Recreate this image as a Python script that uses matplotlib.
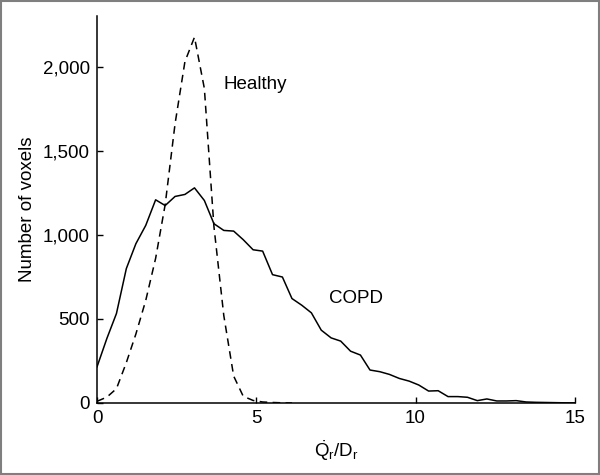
import matplotlib
matplotlib.use("Agg")
import matplotlib.pyplot as plt
from matplotlib.patches import Rectangle
from matplotlib.ticker import FuncFormatter

plt.rcParams['font.family'] = ['Liberation Sans', 'DejaVu Sans']
plt.rcParams['mathtext.fontset'] = 'custom'
plt.rcParams['mathtext.rm'] = 'Liberation Sans'
plt.rcParams['mathtext.it'] = 'Liberation Sans:italic'

# bin centres (50 bins over 0..15)
x_bins = [0.00, 0.31, 0.61, 0.92, 1.22, 1.53, 1.84, 2.14, 2.45, 2.76,
          3.06, 3.37, 3.67, 3.98, 4.29, 4.59, 4.90, 5.20, 5.51, 5.82,
          6.12, 6.43, 6.73, 7.04, 7.35, 7.65, 7.96, 8.27, 8.57, 8.88,
          9.18, 9.49, 9.80, 10.10, 10.41, 10.71, 11.02, 11.33, 11.63, 11.94,
          12.24, 12.55, 12.86, 13.16, 13.47, 13.78, 14.08, 14.39, 14.69, 15.00]

copd = [215, 384, 532, 799, 947, 1056, 1208, 1174, 1228, 1240,
        1279, 1204, 1066, 1026, 1022, 971, 911, 903, 763, 749,
        621, 581, 536, 433, 387, 368, 308, 285, 196, 186,
        170, 146, 130, 107, 71, 73, 38, 38, 34, 14,
        24, 12, 12, 14, 6, 4, 3, 2, 1, 1]

healthy = [10, 35, 85, 240, 410, 610, 860, 1180, 1660, 2030,
           2175, 1870, 1050, 520, 160, 40, 15, 6, 3, 1, 0]

fig = plt.figure(figsize=(6, 4.75), dpi=100)
ax = fig.add_axes([0.1617, 0.1516, 0.958 - 0.1617, 0.966 - 0.1516])

ax.plot(x_bins, copd, c='black', linewidth=1.1)
ax.plot(x_bins[:len(healthy)], healthy, c='black', linewidth=1.1,
        linestyle=(0, (5, 3.5)))

ax.spines["right"].set_visible(False)
ax.spines["top"].set_visible(False)
ax.spines["left"].set_linewidth(1.1)
ax.spines["bottom"].set_linewidth(1.1)
ax.set_xlim(0, 15)
ax.set_ylim(0, 2300)
ax.set_xticks([0, 5, 10, 15])
ax.set_yticks([0, 500, 1000, 1500, 2000])
ax.yaxis.set_major_formatter(FuncFormatter(lambda v, p: f"{int(v):,}"))
ax.tick_params(direction='in', length=4, width=1, labelsize=13.5, pad=5)

ax.text(4.96, 1892, 'Healthy', fontsize=13.5, ha='center', va='center')
ax.text(8.13, 623, 'COPD', fontsize=13.5, ha='center', va='center')

ax.set_ylabel('Number of voxels', fontsize=13.5, labelpad=5)
ax.set_xlabel(r'$\dot{\mathrm{Q}}_\mathrm{r}/\mathrm{D}_\mathrm{r}$', fontsize=13.5, labelpad=8)

fig.patches.append(Rectangle((0.002, 0.002), 0.996, 0.996, transform=fig.transFigure,
                             fill=False, edgecolor='#7f7f7f', linewidth=1.5))

plt.savefig("out.png")
